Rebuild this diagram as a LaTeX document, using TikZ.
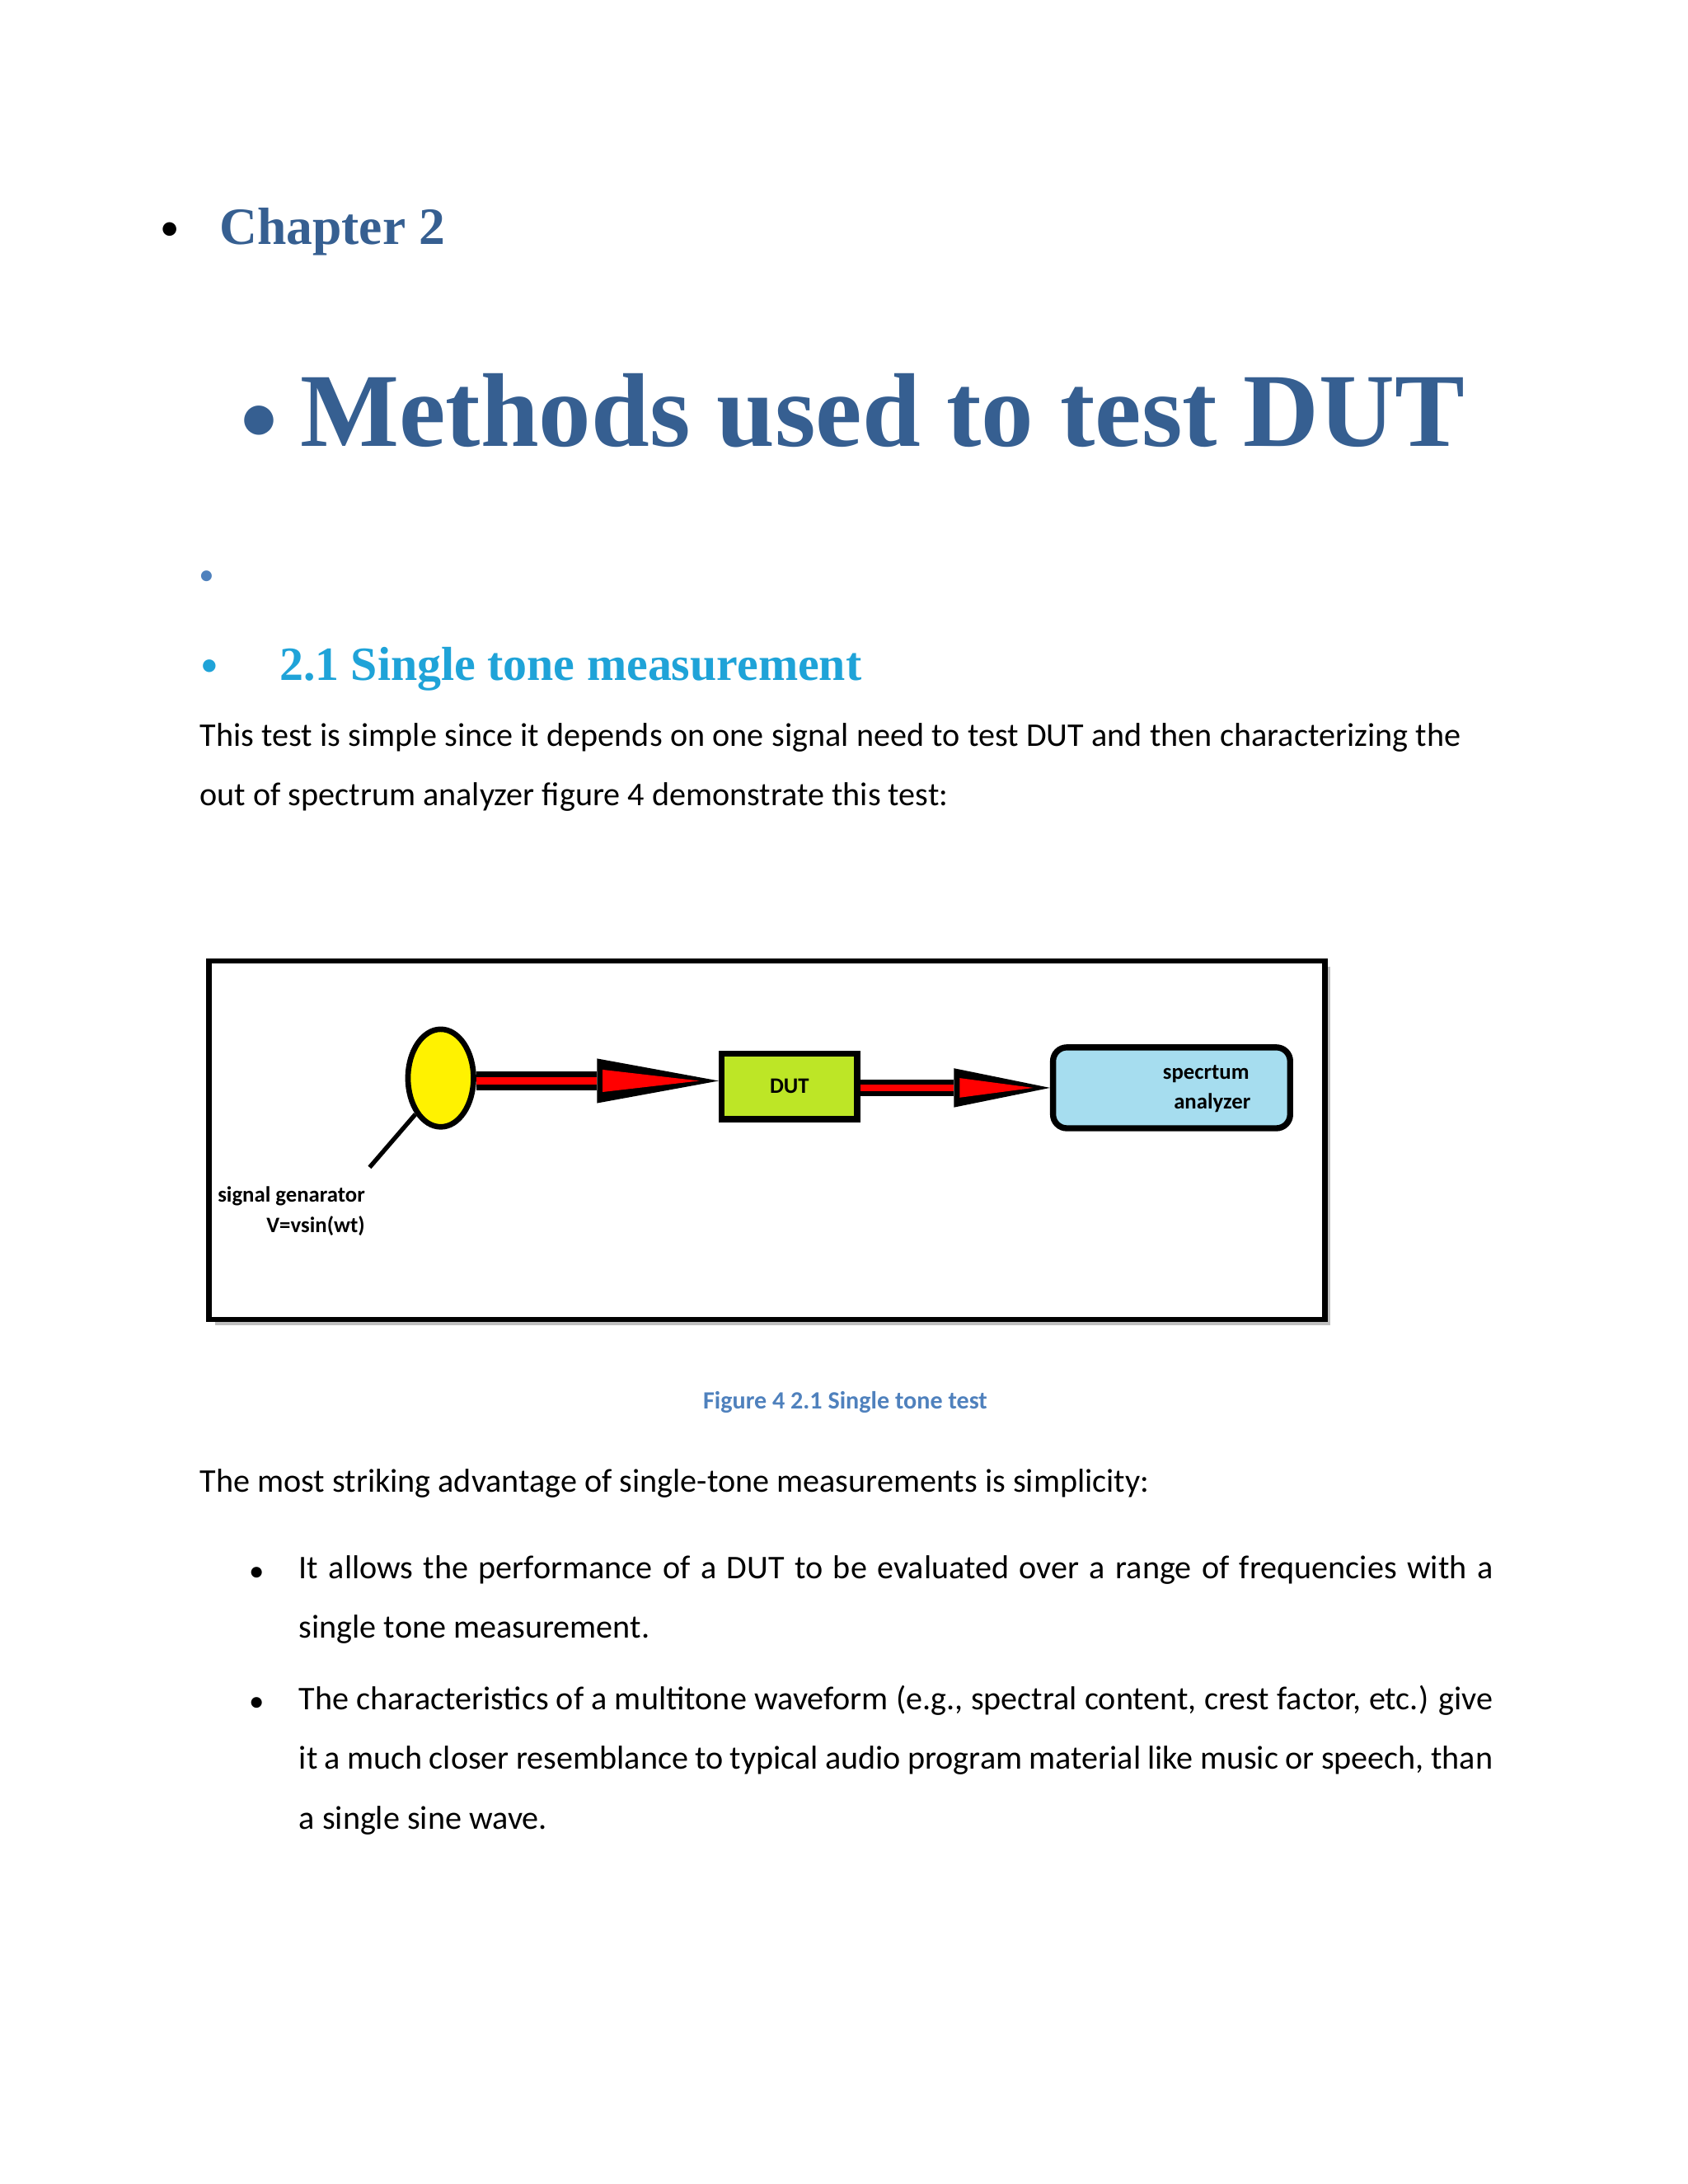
\documentclass[tikz,border=0pt]{standalone}
\usepackage{fontspec}
\setmainfont{Carlito}
\newfontfamily\headfont{Liberation Serif}
\usetikzlibrary{calc,shapes.geometric}
\definecolor{hblue}{HTML}{365F91}
\definecolor{lblue}{HTML}{4F81BD}
\definecolor{cyanh}{HTML}{1FA3D8}
\definecolor{dutg}{HTML}{BDE626}
\definecolor{anab}{HTML}{A6DDEF}
\newcommand\ux{0.5058pt}
\tikzset{
 body/.style={anchor=base west,inner sep=0,font=\fontsize{12}{21.7}\selectfont},
 para/.style={anchor=north west,inner sep=0,align=justify,font=\fontsize{12}{21.7}\selectfont},
 small/.style={inner sep=0,font=\fontsize{8}{11}\selectfont\bfseries,align=right},
}
\begin{document}
\begin{tikzpicture}[x=0.5058pt,y=-0.5058pt]
\useasboundingbox (0,0) rectangle (1210,1566);
% headings
\node[anchor=base,inner sep=0,font=\fontsize{14}{14}\selectfont] (b1) at (122,172) {•};
\node[anchor=base west,inner sep=0,text=hblue,font=\headfont\fontsize{19}{19}\selectfont\bfseries] (ch) at (157,175) {Chapter 2};
\node[anchor=base,inner sep=0,text=hblue,font=\fontsize{30}{30}\selectfont] (b2) at (186,318) {•};
\node[anchor=base west,inner sep=0,text=hblue,font=\headfont\fontsize{38}{38}\selectfont\bfseries] (mt) at (215,320) {Methods used to test DUT};
\node[anchor=base,inner sep=0,text=lblue,font=\fontsize{11}{11}\selectfont] (b3) at (148,419) {•};
\node[anchor=base,inner sep=0,text=cyanh,font=\fontsize{13}{13}\selectfont] (b4) at (150,485) {•};
\node[anchor=base west,inner sep=0,text=cyanh,font=\headfont\fontsize{17.3}{17}\selectfont\bfseries] (sec) at (200,488) {2.1 Single tone measurement};
\node[para,text width=904*\ux] (p1) at (143,518) {This test is simple since it depends on one signal need to test DUT and then characterizing the out of spectrum analyzer figure 4 demonstrate this test:\par};
% figure
\fill[black!25] (154,693) rectangle (954,950);
\draw[line width=2pt,fill=white] (150,689) rectangle (950,946);
\node[ellipse,draw,line width=2pt,fill=yellow,minimum width=47*\ux,minimum height=70*\ux,inner sep=0] (gen) at (316,773) {};
\node[draw,line width=2.2pt,fill=dutg,minimum width=97*\ux,minimum height=47*\ux,inner sep=0,font=\fontsize{8}{8}\selectfont\bfseries] (dut) at (566,779) {DUT};
\node[draw,line width=2.2pt,fill=anab,rounded corners=5pt,minimum width=170*\ux,minimum height=58*\ux,inner sep=0] (ana) at (840,780) {};
\node[small,anchor=east] (at1) at ($(ana.center)+(56,-10)$) {specrtum};
\node[small,anchor=east] (at2) at ($(ana.center)+(57,11)$) {analyzer};
\node[small,anchor=base east] (sg1) at (262,862) {signal genarator};
\node[small,anchor=base east] (sg2) at (262,884) {V=vsin(wt)};
\coordinate (lt) at (265,837);
\draw[line width=1.6pt] (gen.-125) -- (lt);
% arrow 1
\coordinate (a1s) at (gen.east |- 0,775);
\coordinate (a1t) at (dut.west |- 0,775);
\coordinate (a1b) at (428,775);
\draw[line width=7pt] (a1s) -- (a1b);
\draw[line width=2.8pt,red] (a1s) -- (a1b);
\fill (a1t) -- ($(a1b)+(0,-16)$) -- ($(a1b)+(0,16)$) -- cycle;
\fill[red] ($(a1t)+(-14,0)$) -- ($(a1b)+(4,-8)$) -- ($(a1b)+(4,8)$) -- cycle;
% arrow 2
\coordinate (a2s) at (dut.east |- 0,780);
\coordinate (a2t) at (ana.west |- 0,780);
\coordinate (a2b) at (684,780);
\draw[line width=6pt] (a2s) -- (a2b);
\draw[line width=2.6pt,red] (a2s) -- (a2b);
\fill (a2t) -- ($(a2b)+(0,-14)$) -- ($(a2b)+(0,14)$) -- cycle;
\fill[red] ($(a2t)+(-12,0)$) -- ($(a2b)+(4,-7)$) -- ($(a2b)+(4,7)$) -- cycle;
\node[anchor=base,inner sep=0,text=lblue,font=\fontsize{9}{9}\selectfont\bfseries] (cap) at (606,1010) {Figure 4 2.1 Single tone test};
\node[body] (p2) at (143,1070) {The most striking advantage of single-tone measurements is simplicity:};
\node[anchor=base,inner sep=0,font=\fontsize{11}{11}\selectfont] (d1) at (184,1134) {•};
\node[para,text width=856*\ux] (i1) at (214,1115) {It allows the performance of a DUT to be evaluated over a range of frequencies with a single tone measurement.\par};
\node[anchor=base,inner sep=0,font=\fontsize{11}{11}\selectfont] (d2) at (184,1227) {•};
\node[para,text width=856*\ux] (i2) at (214,1208) {The characteristics of a multitone waveform (e.g., spectral content, crest factor, etc.) give it a much closer resemblance to typical audio program material like music or speech, than a single sine wave.\par};
\end{tikzpicture}
\end{document}
